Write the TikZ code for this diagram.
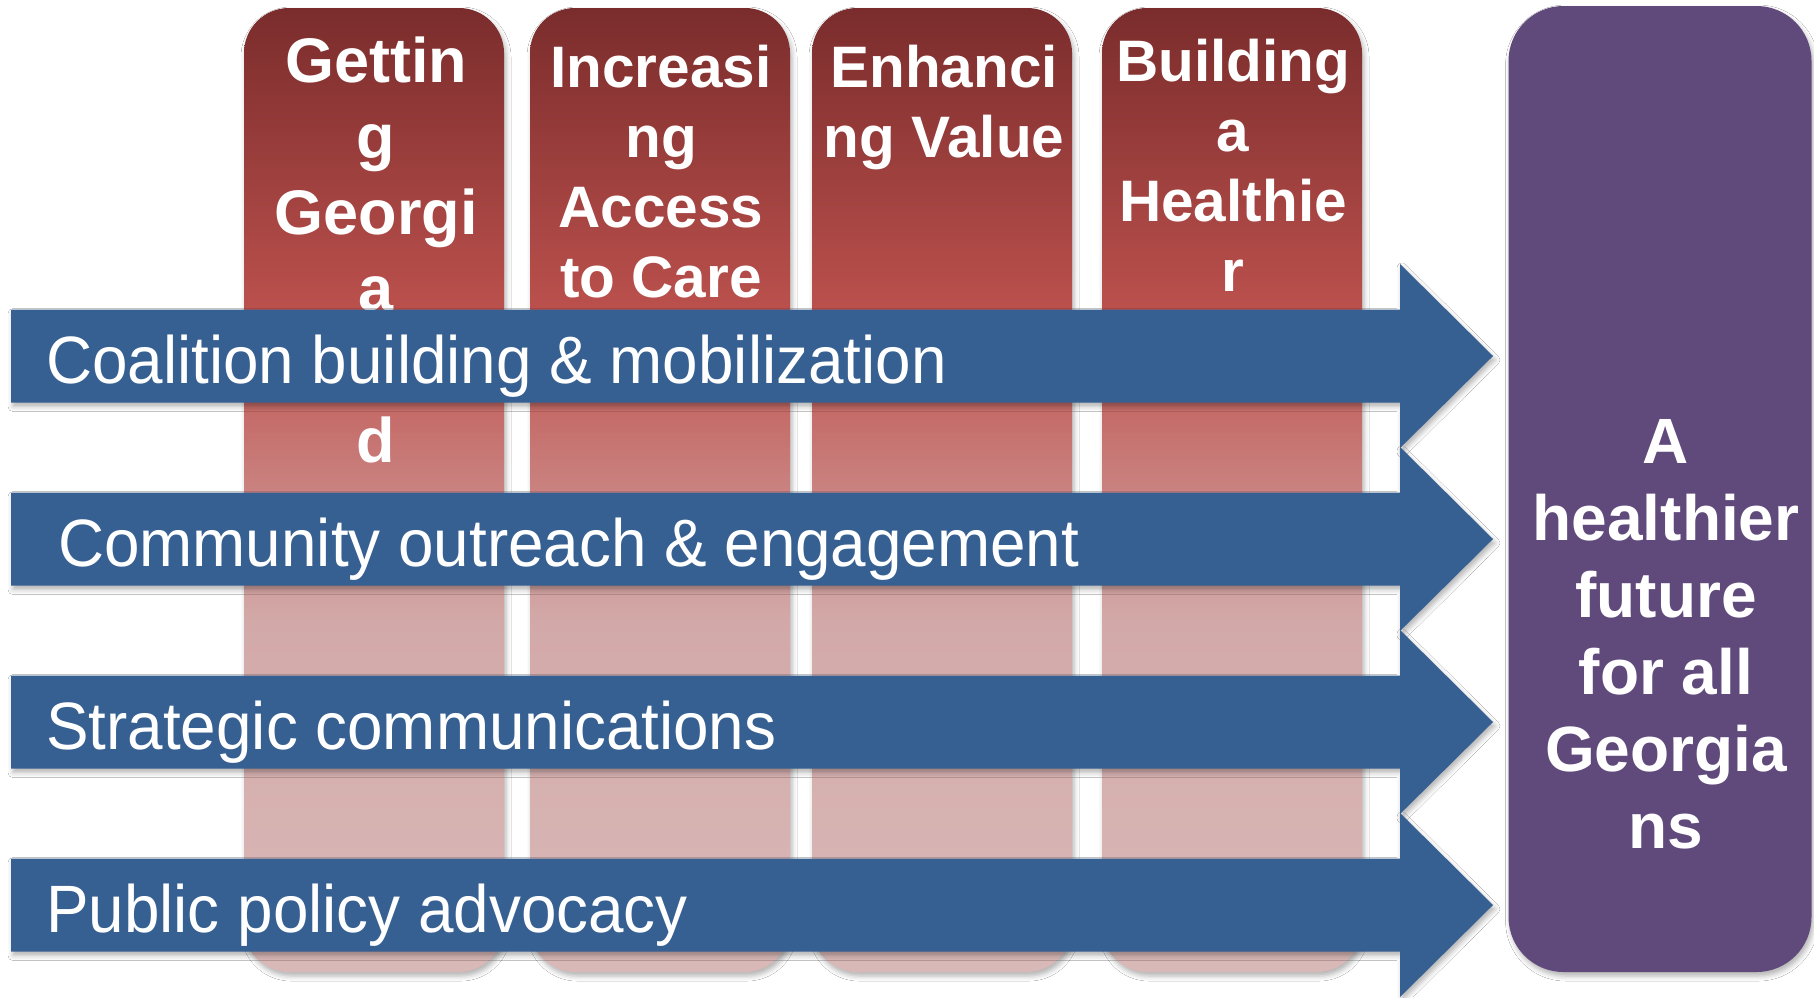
\documentclass[tikz,border=0pt]{standalone}
\usepackage{fontspec}
\setmainfont{Liberation Sans}
\newfontfamily\arrowfont[FakeStretch=0.952]{Liberation Sans}
\usetikzlibrary{shadows.blur}
\definecolor{arrowblue}{HTML}{376092}
\definecolor{goalpurple}{HTML}{604A7B}
\definecolor{colA}{HTML}{7A2C2C}
\definecolor{colB}{HTML}{BF534F}
\definecolor{colC}{HTML}{D2A9A8}
\definecolor{colD}{HTML}{D9B9B8}
\pgfdeclareverticalshading{colgrad}{100bp}{color(0bp)=(colD); color(25bp)=(colD); color(43.3bp)=(colC); color(58.3bp)=(colB); color(75bp)=(colA); color(100bp)=(colA)}
\tikzset{
  softshadow/.style={blur shadow={shadow xshift=2pt, shadow yshift=-4pt, shadow opacity=30, shadow blur radius=5pt}},
  colbox/.style={shading=colgrad, draw=none, rounded corners=45pt, minimum width=260pt, minimum height=964pt, inner sep=0pt, softshadow},
  goalbox/.style={fill=goalpurple, draw=none, rounded corners=55pt, minimum width=303pt, minimum height=966pt, inner sep=0pt, softshadow},
  coltext/.style={text=white, font=\bfseries\fontsize{58.5}{70}\selectfont, align=center, inner sep=0pt, anchor=north},
  goaltext/.style={text=white, font=\bfseries\fontsize{64}{77}\selectfont, align=center, inner sep=0pt, anchor=north},
  arrowshape/.style={fill=arrowblue, draw=none, softshadow},
  arrowtext/.style={text=white, font=\arrowfont\fontsize{67}{80}\selectfont, inner sep=0pt, anchor=base west}
}
\begin{document}
\begin{tikzpicture}[x=1pt,y=1pt]
\useasboundingbox (0,0) rectangle (1814,-997);
\fill[white] (0,0) rectangle (1814,-997);

% pillar columns
\node[colbox] (c1) at (374,-490) {};
\node[colbox] (c2) at (660,-490) {};
\node[colbox] (c3) at (942,-490) {};
\node[colbox] (c4) at (1232,-490) {};

\node[coltext, font=\bfseries\fontsize{63}{76}\selectfont] (t1) at (376,-37) {Gettin\\g\\Georgi\\a\\\mbox{}\\d};
\node[coltext] (t2) at (661,-45) {Increasi\\ng\\Access\\to Care};
\node[coltext] (t3) at (944,-45) {Enhanci\\ng Value};
\node[coltext] (t4) at (1233,-39) {Building\\a\\Healthie\\r};

% goal box
\node[goalbox] (goal) at (1660,-489) {};
\node[goaltext] (gt) at (1666,-419) {A\\healthier\\future\\for all\\Georgia\\ns};

% block arrows
\path[arrowshape] (11,-309.5) -- (1400,-309.5) -- (1400,-264) -- (1493,-356) -- (1400,-448) -- (1400,-402.5) -- (11,-402.5) -- cycle;
\path[arrowshape] (11,-492.5) -- (1400,-492.5) -- (1400,-447) -- (1493,-539) -- (1400,-631) -- (1400,-585.5) -- (11,-585.5) -- cycle;
\path[arrowshape] (11,-675.5) -- (1400,-675.5) -- (1400,-630) -- (1493,-722) -- (1400,-814) -- (1400,-768.5) -- (11,-768.5) -- cycle;
\path[arrowshape] (11,-858.5) -- (1400,-858.5) -- (1400,-813) -- (1493,-905) -- (1400,-997) -- (1400,-951.5) -- (11,-951.5) -- cycle;

\node[arrowtext] (l1) at (46,-383) {Coalition building \& mobilization};
\node[arrowtext] (l2) at (58,-566) {Community outreach \& engagement};
\node[arrowtext] (l3) at (46,-749) {Strategic communications};
\node[arrowtext] (l4) at (46,-932) {Public policy advocacy};
\end{tikzpicture}
\end{document}
